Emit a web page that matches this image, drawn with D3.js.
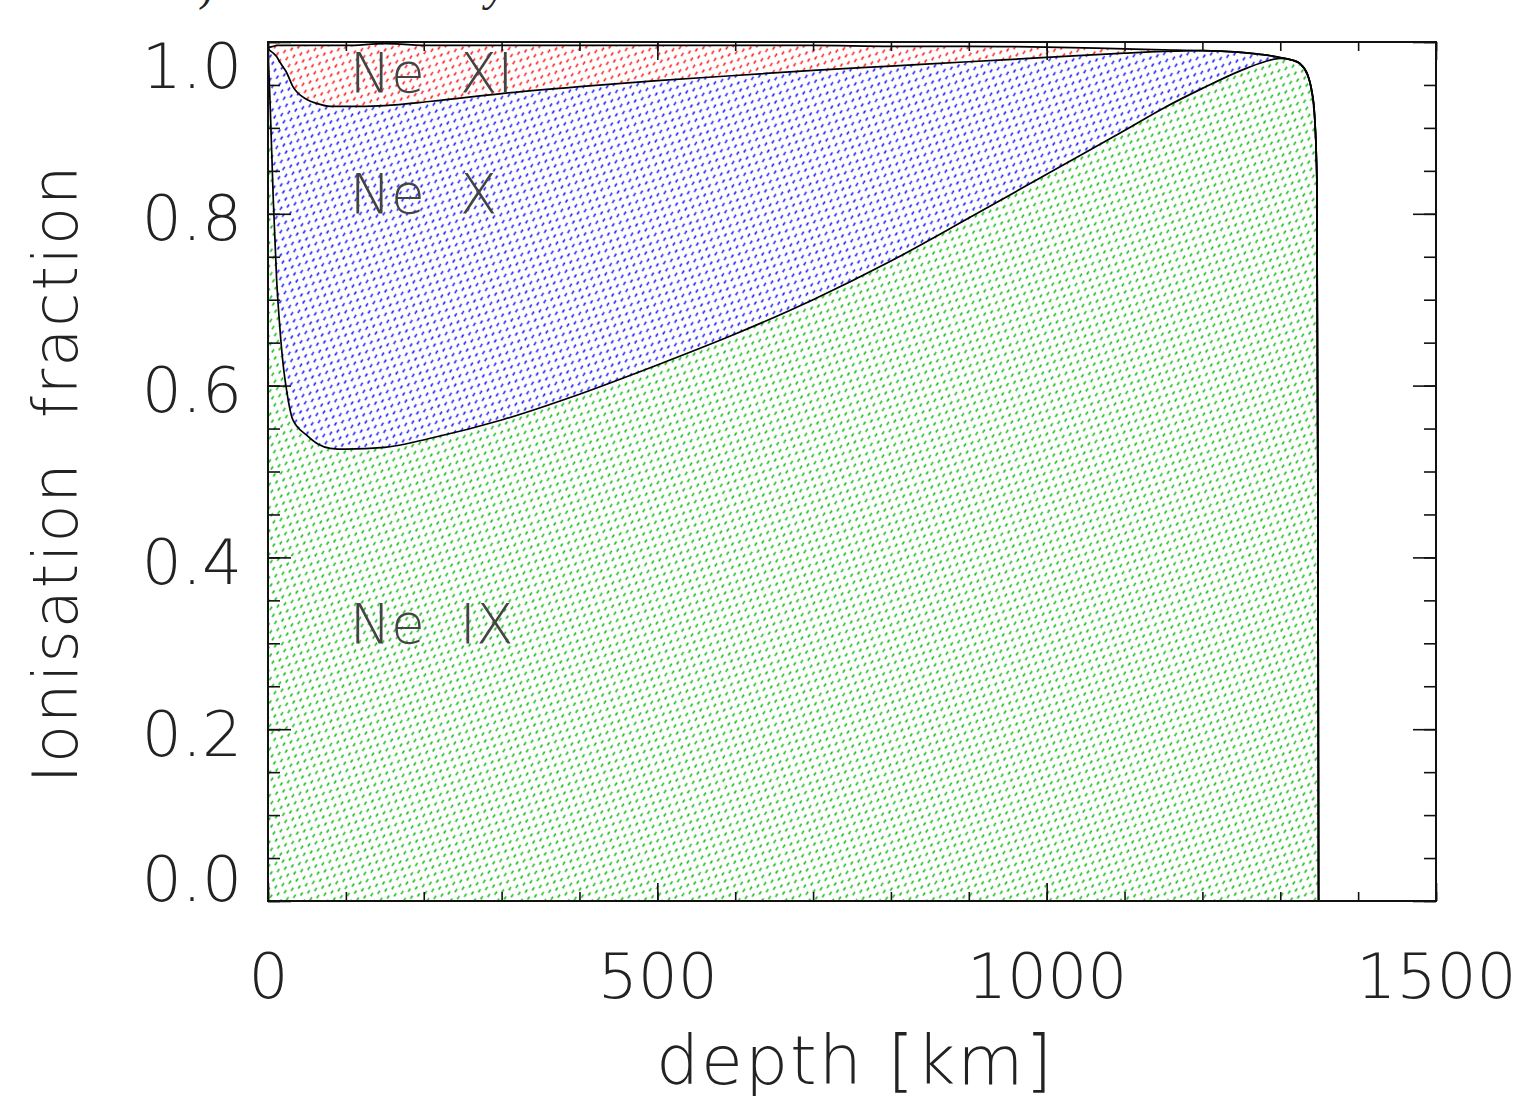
<html>
  <head>
      <script src="https://cdn.jsdelivr.net/npm/d3@7/dist/d3.min.js"></script>
      <style>
          body {
            margin: 0;
            background: #fff;
          }
          text {
            font-family: "DejaVu Sans", sans-serif;
            font-weight: 200;
            fill: #222;
          }
          .tick line {
            stroke: #111;
            stroke-width: 1.6px;
          }
          .line {
            fill: none;
            stroke: #000;
            stroke-width: 1.7px;
          }
      </style>
  </head>
  <body>
      <script>
        // depth [km] and the ionisation fraction of each ion
        var depth = [0, 2.6, 6.8, 11, 15, 20, 23, 32, 50, 64, 80, 100, 150, 210, 300, 400, 500, 600, 700, 800,
                     900, 1000, 1100, 1150, 1200, 1250, 1280, 1300, 1315, 1325, 1335, 1340, 1344, 1347, 1348.5, 1349.2];
        var neIX  = [.992, .932, .816, .725, .670, .620, .600, .560, .542, .532, .527, .526, .528, .539, .560, .590, .624, .660, .700, .745,
                     .795, .846, .897, .923, .946, .967, .977, .981, .979, .975, .962, .945, .915, .840, .420, 0];
        var neX   = [0, .058, .171, .258, .307, .350, .366, .388, .391, .396, .398, .399, .398, .392, .380, .358, .331, .301, .267, .227,
                     .182, .136, .090, .066, .044, .021, .008, .001, 0, 0, 0, 0, 0, 0, 0, 0];
        var neXI  = [.001, .004, .008, .013, .019, .026, .030, .048, .063, .068, .071, .071, .072, .065, .056, .048, .041, .035, .029, .023,
                     .018, .012, .005, .002, 0, 0, 0, 0, 0, 0, 0, 0, 0, 0, 0, 0];

        var ions = ["Ne IX", "Ne X", "Ne XI"];
        var ionLabels = ["Ne  IX", "Ne  X", "Ne  XI"];
        var ionLabelAt = [[105, 0.300], [105, 0.801], [105, 0.942]];  // [depth, fraction] of the label baseline
        var ionColors = ["#22c022", "#2a2aff", "#ff2a2a"];

        var xMajor = [0, 500, 1000, 1500];
        var xMinor = d3.range(0, 1501, 100);
        var yMajor = [0, 0.2, 0.4, 0.6, 0.8, 1.0];
        var yMinor = d3.range(0, 1.0001, 0.05);

        var w = 1519, h = 1096;
        var pL = 268, pR = 1436, pT = 42, pB = 901;

        var x = d3.scaleLinear().domain([0, 1500]).range([pL, pR]);
        var y = d3.scaleLinear().domain([0, 1]).range([pB, pT]);

        var rows = depth.map(function(d, i) {
          return {depth: d, "Ne IX": neIX[i], "Ne X": neX[i], "Ne XI": neXI[i]};
        });
        var series = d3.stack().keys(ions)(rows);

        var svg = d3.select("body").append("svg")
            .attr("width", w)
            .attr("height", h);

        // dotted fill patterns, one per ion
        var defs = svg.append("defs");
        ions.forEach(function(k, i) {
          var p = defs.append("pattern")
              .attr("id", "pat" + i)
              .attr("width", 7.4)
              .attr("height", 7.4)
              .attr("patternUnits", "userSpaceOnUse")
              .attr("patternTransform", "rotate(-18)");
          p.append("line")
              .attr("x1", 1.6).attr("y1", 4.8)
              .attr("x2", 4.6).attr("y2", 2.6)
              .attr("stroke", ionColors[i])
              .attr("stroke-width", 1.6);
        });

        var area = d3.area()
            .x(function(d) { return x(d.data.depth); })
            .y0(function(d) { return y(d[0]); })
            .y1(function(d) { return y(d[1]); })
            .curve(d3.curveMonotoneX);

        svg.selectAll(".layer")
            .data(series)
            .enter().append("path")
            .attr("class", "layer")
            .attr("fill", function(d, i) { return "url(#pat" + i + ")"; })
            .attr("d", area);

        var line = d3.line()
            .x(function(d) { return x(d.data.depth); })
            .y(function(d) { return y(d[1]); })
            .curve(d3.curveMonotoneX);

        svg.selectAll(".line")
            .data(series)
            .enter().append("path")
            .attr("class", "line")
            .attr("d", line);

        // ion labels
        svg.selectAll(".ion")
            .data(ionLabels)
            .enter().append("text")
            .attr("class", "ion")
            .attr("x", function(d, i) { return x(ionLabelAt[i][0]); })
            .attr("y", function(d, i) { return y(ionLabelAt[i][1]); })
            .style("font-size", "55px")
            .style("fill", "#444")
            .style("white-space", "pre")
            .text(function(d) { return d; });

        // ticks on all four sides, pointing inwards
        function ticks(axis, tr) {
          var g = svg.append("g").attr("transform", tr).call(axis);
          g.select(".domain").remove();
          return g;
        }
        ticks(d3.axisBottom(x).tickValues(xMinor).tickSize(-9).tickFormat(""), "translate(0," + pB + ")");
        ticks(d3.axisTop(x).tickValues(xMinor).tickSize(-9).tickFormat(""), "translate(0," + pT + ")");
        ticks(d3.axisTop(x).tickValues(xMajor).tickSize(-18).tickFormat(""), "translate(0," + pT + ")");
        ticks(d3.axisLeft(y).tickValues(yMinor).tickSize(-12).tickFormat(""), "translate(" + pL + ",0)");
        ticks(d3.axisRight(y).tickValues(yMinor).tickSize(-12).tickFormat(""), "translate(" + pR + ",0)");
        ticks(d3.axisRight(y).tickValues(yMajor).tickSize(-23).tickFormat(""), "translate(" + pR + ",0)");

        var gx = ticks(d3.axisBottom(x).tickValues(xMajor).tickSize(-18).tickFormat(d3.format("d")), "translate(0," + pB + ")");
        gx.selectAll("text")
            .attr("y", 97)
            .attr("dy", null)
            .style("font-size", "63px")
            .style("fill", "#222");

        var gy = ticks(d3.axisLeft(y).tickValues(yMajor).tickSize(-23).tickFormat(d3.format(".1f")), "translate(" + pL + ",0)");
        gy.selectAll("text")
            .attr("x", -26)
            .attr("dy", null)
            .attr("y", function(d) { return d == 0 ? -1 : (d == 1 ? 45 : 26); })
            .style("font-size", "63px")
            .style("fill", "#222");

        // frame
        svg.append("rect")
            .attr("x", pL).attr("y", pT)
            .attr("width", pR - pL).attr("height", pB - pT)
            .attr("fill", "none")
            .attr("stroke", "#111")
            .attr("stroke-width", 2);

        // axis titles
        svg.append("text")
            .attr("x", (pL + pR) / 2 + 3)
            .attr("y", 1084)
            .attr("text-anchor", "middle")
            .style("font-size", "68px")
            .style("letter-spacing", "2px")
            .text("depth [km]");

        svg.append("text")
            .attr("transform", "translate(77," + ((pT + pB) / 2 + 2) + ") rotate(-90)")
            .attr("text-anchor", "middle")
            .style("font-size", "62px")
            .style("letter-spacing", "2px")
            .style("white-space", "pre")
            .text("Ionisation  fraction");

        // remains of the caption line above, cut by the top edge
        svg.append("text").attr("x", 198).attr("y", 0)
            .style("font-family", "Liberation Serif").style("font-weight", 400).style("font-size", "46px")
            .text(")");
        svg.append("text").attr("x", 486).attr("y", 0)
            .style("font-family", "Liberation Serif").style("font-style", "italic").style("font-weight", 400).style("font-size", "46px")
            .text("y");
     </script>
  </body>
</html>
